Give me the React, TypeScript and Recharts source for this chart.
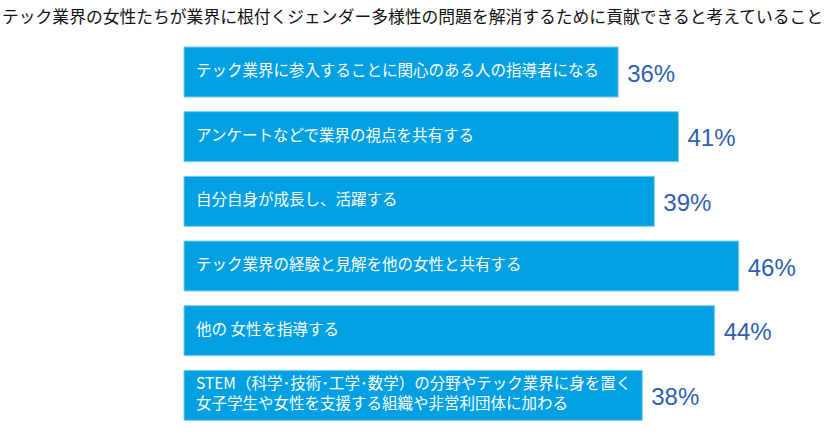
import { BarChart, Bar, XAxis, YAxis, LabelList } from 'recharts';

const categories = [
  'テック業界に参入することに関心のある人の指導者になる',
  'アンケートなどで業界の視点を共有する',
  '自分自身が成長し、活躍する',
  'テック業界の経験と見解を他の女性と共有する',
  '他の 女性を指導する',
  'STEM（科学･技術･工学･数学）の分野やテック業界に身を置く\n女子学生や女性を支援する組織や非営利団体に加わる',
];

const values = [36, 41, 39, 46, 44, 38];

const TITLE = 'テック業界の女性たちが業界に根付くジェンダー多様性の問題を解消するために貢献できると考えていること';

const chartData = categories.map((name, i) => ({ name, value: values[i] }));

const InsideLabel = (props: any) => {
  const { x, y, height, value } = props;
  const lines = String(value).split('\n');
  const cy = y + height / 2 - 3;
  const lineH = 20;
  const start = cy - ((lines.length - 1) * lineH) / 2;
  return (
    <text
      x={x + 12}
      y={start}
      fill="#ffffff"
      fontSize={15.5}
      fontFamily="'Noto Sans CJK JP', sans-serif"
      dominantBaseline="central"
    >
      {lines.map((l, i) => (
        <tspan key={i} x={x + 12} y={start + i * lineH} dominantBaseline="central">
          {l}
        </tspan>
      ))}
    </text>
  );
};

const ValueLabel = (props: any) => {
  const { x, y, width, height, value } = props;
  return (
    <text
      x={x + width + 9}
      y={y + height / 2 + 1}
      fill="#2f5fae"
      fontSize={24}
      fontFamily="'Liberation Sans', Arial, sans-serif"
      dominantBaseline="central"
    >
      {value}%
    </text>
  );
};

export default function App() {
  return (
    <div style={{ position: 'absolute', left: 0, top: 0, width: 828, height: 447, background: '#fff' }}>
      <div
        style={{
          position: 'absolute',
          left: 2,
          top: 5,
          fontSize: 16.8,
          fontFamily: "'Noto Sans CJK JP', sans-serif",
          color: '#111',
          whiteSpace: 'nowrap',
          lineHeight: '22px',
        }}
      >
        {TITLE}
      </div>
      <BarChart
        width={828}
        height={447}
        data={chartData}
        layout="vertical"
        margin={{ top: 40, right: 41, bottom: 19, left: 184 }}
      >
        <XAxis type="number" domain={[0, 50]} hide />
        <YAxis type="category" dataKey="name" hide width={0} />
        <Bar dataKey="value" fill="#00a0e2" stroke="#7fcdee" strokeWidth={1} barSize={50} isAnimationActive={false}>
          <LabelList dataKey="name" content={<InsideLabel />} />
          <LabelList dataKey="value" content={<ValueLabel />} />
        </Bar>
      </BarChart>
    </div>
  );
}
